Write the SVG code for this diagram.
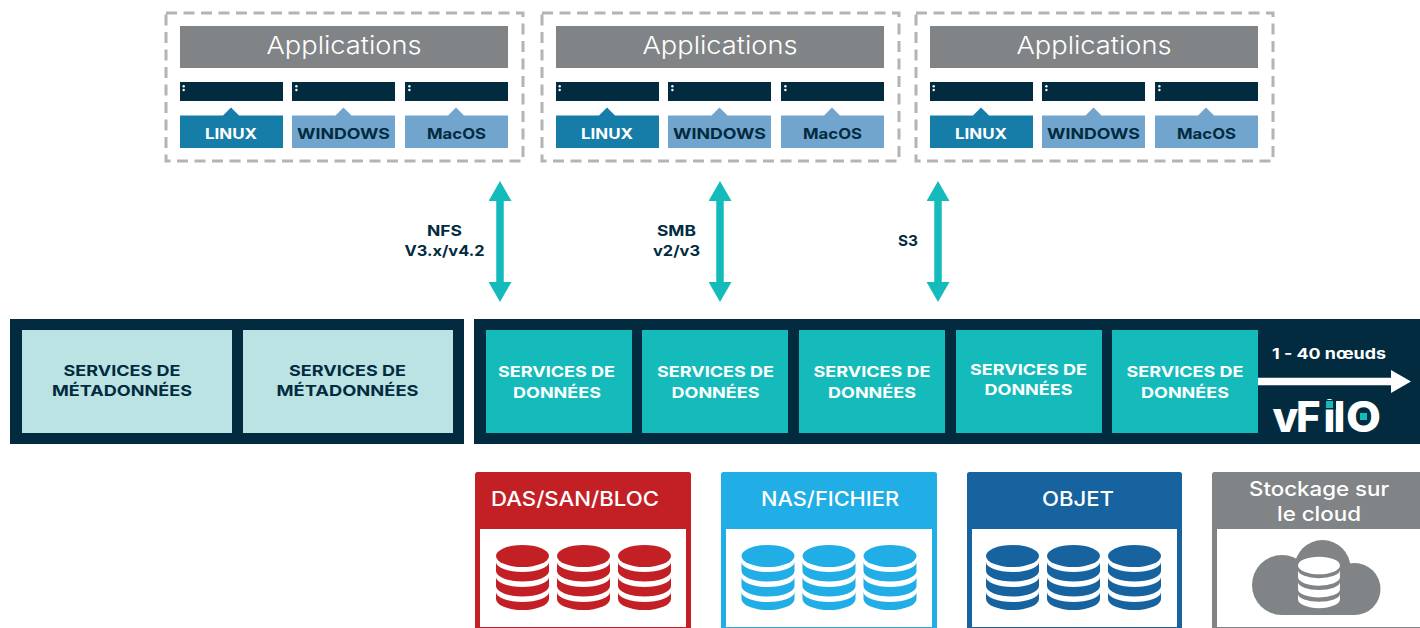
<svg xmlns="http://www.w3.org/2000/svg" width="1420" height="628" viewBox="0 0 1420 628">
<style>
text{font-family:"Inter","Liberation Sans",sans-serif;text-anchor:middle}
.dash{fill:none;stroke:#b2b4b5;stroke-width:3;stroke-dasharray:11 6.500}
.grey{fill:#808486}.dark{fill:#022b3f}.lin{fill:#167ca8}.os{fill:#71a5cd}
.app{font-size:24px;font-weight:300;fill:#fff}
.ost{font-size:14.5px;font-weight:700;fill:#022b3f}
.w{fill:#fff}
.proto{font-size:14.5px;font-weight:700;fill:#022b3f}
.svc{font-size:15px;font-weight:700;fill:#022b3f}
.svw{font-size:15px;font-weight:700;fill:#fff}
.sto{font-size:20px;font-weight:500;fill:#fff}
.conn{stroke:#15bbbb;stroke-width:7.5;fill:none;marker-start:url(#h);marker-end:url(#h)}
</style>
<defs>
<marker id="h" markerUnits="userSpaceOnUse" markerWidth="21" markerHeight="23" refX="1" refY="11.5" orient="auto-start-reverse"><path d="M0 0L20 11.5L0 23Z" fill="#15bbbb"/></marker>
<marker id="hw" markerUnits="userSpaceOnUse" markerWidth="21" markerHeight="23" refX="1" refY="11.5" orient="auto"><path d="M0 0L20 11.5L0 23Z" fill="#fff"/></marker>
<g id="db">
<ellipse cx="0" cy="0" rx="26.5" ry="11"/>
<path d="M-26.5 6A26.5 10 0 0 0 26.5 6V15A26.5 10.5 0 0 1-26.5 15Z"/>
<path d="M-26.5 21A26.5 10 0 0 0 26.5 21V30A26.5 10.5 0 0 1-26.5 30Z"/>
<path d="M-26.5 36A26.5 10 0 0 0 26.5 36V43A26.5 11 0 0 1-26.5 43Z"/>
</g>
<g id="dbs"><use href="#db" x="-61"/><use href="#db"/><use href="#db" x="61"/></g>
<g id="appset">
<rect class="dash" x="166" y="13" width="357" height="148"/>
<rect class="grey" x="180" y="26" width="328" height="42"/>
<text class="app" x="344" y="54" textLength="155" lengthAdjust="spacingAndGlyphs">Applications</text>
<rect class="dark" x="180" y="82" width="103" height="19"/><rect class="dark" x="292" y="82" width="103" height="19"/><rect class="dark" x="405" y="82" width="103" height="19"/>
<g class="w"><circle cx="183.7" cy="86.3" r="1.2"/><circle cx="183.7" cy="90" r="1.2"/><circle cx="296.4" cy="86.3" r="1.2"/><circle cx="296.4" cy="90" r="1.2"/><circle cx="409.4" cy="86.3" r="1.2"/><circle cx="409.4" cy="90" r="1.2"/></g>
<path class="lin" d="M180 115.5H223L231 107.500L239 115.500H283V148H180Z"/>
<path class="os" d="M292 115.5H335.500L343.500 107.500L351.500 115.500H395V148H292Z"/>
<path class="os" d="M405 115.5H448L456 107.500L464 115.500H508V148H405Z"/>
<text class="ost" x="231" y="139" style="fill:#fff" textLength="52" lengthAdjust="spacingAndGlyphs">LINUX</text>
<text class="ost" x="343.500" y="139" textLength="93" lengthAdjust="spacingAndGlyphs">WINDOWS</text>
<text class="ost" x="456.500" y="139" textLength="59" lengthAdjust="spacingAndGlyphs">MacOS</text>
</g>
</defs>

<g id="app-nfs"><use href="#appset"/></g>
<g id="app-smb"><use href="#appset" x="376"/></g>
<g id="app-s3"><use href="#appset" x="750"/></g>

<g id="metadata-cluster">
<rect class="dark" x="10" y="319" width="454" height="125"/>
<g id="meta-1"><rect x="22" y="330" width="210" height="103" fill="#bce3e3"/>
<text class="svc" x="122" y="376" textLength="117" lengthAdjust="spacingAndGlyphs">SERVICES DE</text>
<text class="svc" x="122" y="396" textLength="140" lengthAdjust="spacingAndGlyphs">MÉTADONNÉES</text></g>
<g id="meta-2"><rect x="243" y="330" width="210" height="103" fill="#bce3e3"/>
<text class="svc" x="347.500" y="376" textLength="117" lengthAdjust="spacingAndGlyphs">SERVICES DE</text>
<text class="svc" x="347.500" y="396" textLength="142" lengthAdjust="spacingAndGlyphs">MÉTADONNÉES</text></g>
</g>

<g id="data-cluster">
<rect class="dark" x="474" y="319" width="946" height="125"/>
<g id="data-1"><rect x="486" y="330" width="146" height="103" fill="#15bbbb"/>
<text class="svw" x="556.500" y="377" textLength="117" lengthAdjust="spacingAndGlyphs">SERVICES DE</text>
<text class="svw" x="557" y="398" textLength="88" lengthAdjust="spacingAndGlyphs">DONNÉES</text></g>
<g id="data-2"><rect x="642" y="330" width="146" height="103" fill="#15bbbb"/>
<text class="svw" x="715.500" y="377" textLength="117" lengthAdjust="spacingAndGlyphs">SERVICES DE</text>
<text class="svw" x="715.500" y="398" textLength="88" lengthAdjust="spacingAndGlyphs">DONNÉES</text></g>
<g id="data-3"><rect x="799" y="330" width="146" height="103" fill="#15bbbb"/>
<text class="svw" x="872" y="377" textLength="117" lengthAdjust="spacingAndGlyphs">SERVICES DE</text>
<text class="svw" x="872" y="398" textLength="88" lengthAdjust="spacingAndGlyphs">DONNÉES</text></g>
<g id="data-4"><rect x="956" y="330" width="146" height="103" fill="#15bbbb"/>
<text class="svw" x="1028.500" y="375" textLength="117" lengthAdjust="spacingAndGlyphs">SERVICES DE</text>
<text class="svw" x="1028.500" y="395" textLength="88" lengthAdjust="spacingAndGlyphs">DONNÉES</text></g>
<g id="data-5"><rect x="1112" y="330" width="146" height="103" fill="#15bbbb"/>
<text class="svw" x="1185" y="377" textLength="117" lengthAdjust="spacingAndGlyphs">SERVICES DE</text>
<text class="svw" x="1185" y="398" textLength="88" lengthAdjust="spacingAndGlyphs">DONNÉES</text></g>
<text x="1329" y="359" style="font-size:15px;font-weight:700;fill:#fff" textLength="114" lengthAdjust="spacingAndGlyphs">1 - 40 nœuds</text>
<g id="vfilo-logo">
<text y="432" style="font-size:42px;font-weight:800;fill:#fff;text-anchor:start"><tspan x="1272.500 1296 1323.500 1333.500">vFil</tspan><tspan x="1346" textLength="35" lengthAdjust="spacingAndGlyphs">O</tspan></text>
<rect x="1323" y="400" width="13" height="9.500" fill="#022b3f"/>
<rect x="1326" y="401" width="7" height="7" fill="#15bbbb"/>
<rect x="1360" y="413" width="7" height="7" fill="#15bbbb"/>
</g>
</g>

<g id="store-block">
<path d="M475 628V474.500Q475 472 477.500 472H688.500Q691 472 691 474.500V628Z" fill="#c32026"/>
<rect x="480" y="529" width="206" height="98" fill="#fff"/>
<text class="sto" x="575" y="506" textLength="168" lengthAdjust="spacingAndGlyphs">DAS/SAN/BLOC</text>
<use href="#dbs" x="583.500" y="556" fill="#c32026"/>
</g>
<g id="store-file">
<path d="M721 628V474.500Q721 472 723.500 472H934.500Q937 472 937 474.500V628Z" fill="#21ade6"/>
<rect x="726" y="529" width="206" height="98" fill="#fff"/>
<text class="sto" x="830" y="506" textLength="138" lengthAdjust="spacingAndGlyphs">NAS/FICHIER</text>
<use href="#dbs" x="829" y="556" fill="#21ade6"/>
</g>
<g id="store-object">
<path d="M967 628V474.500Q967 472 969.500 472H1179.500Q1182 472 1182 474.500V628Z" fill="#1663a0"/>
<rect x="972" y="529" width="205" height="98" fill="#fff"/>
<text class="sto" x="1078" y="506" textLength="72" lengthAdjust="spacingAndGlyphs">OBJET</text>
<use href="#dbs" x="1073.500" y="556" fill="#1663a0"/>
</g>
<g id="store-cloud">
<path d="M1212 628V474.500Q1212 472 1214.500 472H1420V628Z" fill="#808486"/>
<rect x="1217" y="529" width="203" height="98" fill="#fff"/>
<text class="sto" x="1319" y="496" textLength="140" lengthAdjust="spacingAndGlyphs">Stockage sur</text>
<text class="sto" x="1319" y="521" textLength="84" lengthAdjust="spacingAndGlyphs">le cloud</text>
<g fill="#808486"><circle cx="1282" cy="585" r="30"/><circle cx="1322.500" cy="568" r="28"/><circle cx="1354.500" cy="589" r="26"/><rect x="1282" y="575" width="72" height="40"/></g>
<use href="#db" transform="translate(1319 565.500) scale(.79 .79)" fill="#fff"/>
</g>

<g id="connectors">
<line class="conn" x1="500" y1="200" x2="500" y2="283"/>
<line class="conn" x1="720" y1="200" x2="720" y2="283"/>
<line class="conn" x1="938" y1="200" x2="938" y2="283"/>
<line x1="1258" y1="381.500" x2="1392" y2="381.500" stroke="#fff" stroke-width="7.500" marker-end="url(#hw)"/>
<text class="proto" x="444.500" y="236" textLength="35" lengthAdjust="spacingAndGlyphs">NFS</text>
<text class="proto" x="444.500" y="256" textLength="80" lengthAdjust="spacingAndGlyphs">V3.x/v4.2</text>
<text class="proto" x="676.500" y="236" textLength="39" lengthAdjust="spacingAndGlyphs">SMB</text>
<text class="proto" x="676.500" y="256" textLength="47" lengthAdjust="spacingAndGlyphs">v2/v3</text>
<text class="proto" x="908" y="246" textLength="20" lengthAdjust="spacingAndGlyphs">S3</text>
</g>
</svg>
